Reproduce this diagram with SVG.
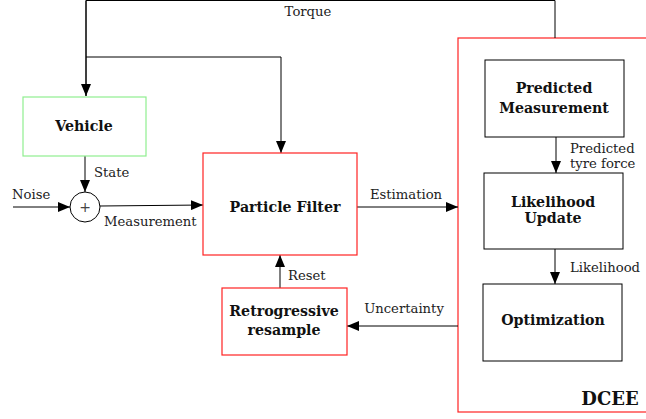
<svg xmlns="http://www.w3.org/2000/svg" width="646" height="419" viewBox="0 0 646 419">
<defs>
<marker id="arr" markerWidth="12" markerHeight="10" refX="12" refY="5" orient="auto" markerUnits="userSpaceOnUse">
<path d="M0,0 L12,5 L0,10 Z" fill="#000"/>
</marker>
<style>
.box{fill:#fff;stroke:#000;stroke-width:1}
.red{fill:none;stroke:#ff2222;stroke-width:1.2}
.green{fill:#fff;stroke:#90ee90;stroke-width:1.2}
.ln{fill:none;stroke:#000;stroke-width:1}
.a{marker-end:url(#arr)}
.t{font-family:"DejaVu Serif","Liberation Serif",serif;font-size:13.2px;fill:#222}
.b{font-family:"DejaVu Serif","Liberation Serif",serif;font-size:14.2px;font-weight:bold;fill:#111;text-anchor:middle}
.bb{font-family:"DejaVu Serif","Liberation Serif",serif;font-size:18px;font-weight:bold;fill:#111;text-anchor:middle}
</style>
</defs>
<rect width="646" height="419" fill="#fff"/>
<g id="dcee">
<rect class="red" x="458" y="38" width="200" height="374"/>
<text class="bb" x="610" y="405">DCEE</text>
</g>
<g id="connectors">
<polyline class="ln" points="555,38 555,0.5 86,0.5 86,96"/>
<path class="ln a" d="M86,0.5 L86,96"/>
<polyline class="ln a" points="86,57 281,57 281,153"/>
<path class="ln a" d="M85,156 L85,192"/>
<path class="ln a" d="M13,207 L70,207"/>
<path class="ln a" d="M100,206 L203,205"/>
<path class="ln a" d="M357,207 L458,207"/>
<path class="ln a" d="M556,137 L556,173"/>
<path class="ln a" d="M555,249 L555,284"/>
<path class="ln a" d="M458,326 L347,326"/>
<path class="ln a" d="M280,288 L280,255"/>
<text class="t" x="308" y="16" text-anchor="middle">Torque</text>
<text class="t" x="94" y="177">State</text>
<text class="t" x="12" y="199">Noise</text>
<text class="t" x="104" y="226">Measurement</text>
<text class="t" x="406" y="199" text-anchor="middle">Estimation</text>
<text class="t" x="570" y="153">Predicted</text>
<text class="t" x="570" y="168">tyre force</text>
<text class="t" x="570" y="272">Likelihood</text>
<text class="t" x="404" y="313" text-anchor="middle">Uncertainty</text>
<text class="t" x="288" y="280">Reset</text>
</g>
<g id="vehicle">
<rect class="green" x="23" y="97" width="123" height="59"/>
<text class="b" x="84" y="131">Vehicle</text>
</g>
<g id="sum">
<circle cx="85" cy="207" r="15" fill="#fff" stroke="#000" stroke-width="1"/>
<text x="85" y="212" text-anchor="middle" font-family="DejaVu Sans,sans-serif" font-size="14" fill="#444">+</text>
</g>
<g id="pf">
<rect class="box" x="203" y="153" width="154" height="102" style="stroke:#ff2222;stroke-width:1.2"/>
<text class="b" x="285" y="212">Particle Filter</text>
</g>
<g id="retro">
<rect class="box" x="222" y="288" width="125" height="67" style="stroke:#ff2222;stroke-width:1.2"/>
<text class="b" x="284" y="316">Retrogressive</text>
<text class="b" x="284" y="335">resample</text>
</g>
<g id="pm">
<rect class="box" x="485" y="60" width="139" height="77"/>
<text class="b" x="554" y="93">Predicted</text>
<text class="b" x="554" y="113">Measurement</text>
</g>
<g id="lu">
<rect class="box" x="484" y="173" width="139" height="76"/>
<text class="b" x="553" y="207">Likelihood</text>
<text class="b" x="553" y="223">Update</text>
</g>
<g id="opt">
<rect class="box" x="483" y="284" width="139" height="77"/>
<text class="b" x="553" y="325">Optimization</text>
</g>
</svg>
